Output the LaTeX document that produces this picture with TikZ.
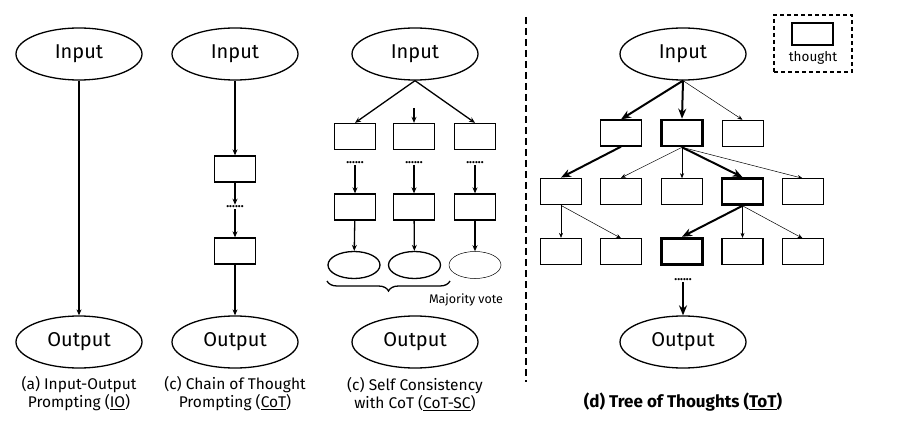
\documentclass[tikz,border=0pt]{standalone}
\usepackage{fontspec}
\setmainfont{Fira Sans}
\usetikzlibrary{shapes.geometric,arrows.meta,decorations.pathreplacing}
\begin{document}
\begin{tikzpicture}[x=1pt,y=-1pt,
  io/.style={ellipse,draw,line width=1.3pt,minimum width=126pt,minimum height=52pt,inner sep=0pt,font=\fontsize{20}{22}\selectfont},
  th/.style={rectangle,draw,line width=1.3pt,minimum width=41pt,minimum height=26pt,inner sep=0pt},
  thfaint/.style={th,line width=0.5pt},
  thmed/.style={th,line width=1.8pt},
  ththick/.style={th,line width=2.6pt},
  ththicker/.style={th,line width=3.4pt},
  ans/.style={ellipse,draw,line width=1.3pt,minimum width=52pt,minimum height=27pt,inner sep=0pt},
  ansfaint/.style={ans,line width=0.5pt},
  dotsnode/.style={inner sep=1pt,font=\bfseries\fontsize{12}{12}\selectfont},
  arr/.style={line width=1.3pt,-{Stealth[length=6pt,width=5pt]}},
  arrthin/.style={line width=0.5pt,-{Stealth[length=5pt,width=4pt]}},
  arrthick/.style={line width=2pt,-{Stealth[length=10pt,width=8pt]}},
  captext/.style={align=center,font=\fontsize{15.5}{18}\selectfont}
]
\useasboundingbox (0,0) rectangle (904,430);

% (a)
\node[io] (aIn) at (79,54) {Input};
\node[io] (aOut) at (79,342) {Output};
\draw[arr] (aIn) -- (aOut);
\node[captext] (capA) at (79,394) {(a) Input-Output\\Prompting (\underline{IO})};

% (b)
\node[io] (bIn) at (235,54) {Input};
\node[th] (b1) at (235,169) {};
\node[dotsnode] (bd) at (235,207) {......};
\node[th] (b2) at (235,251) {};
\node[io] (bOut) at (235,342) {Output};
\draw[arr] (bIn) -- (b1);
\draw[arr] (b1) -- (bd);
\draw[arr] (bd) -- (b2);
\draw[arr] (b2) -- (bOut);
\node[captext] (capB) at (235,394) {(c) Chain of Thought\\Prompting (\underline{CoT})};

% (c)
\node[io] (cIn) at (415,54) {Input};
\coordinate (cMid) at (414,108);
\node[th] (c11) at (355,136.5) {};
\node[th] (c12) at (414,136.5) {};
\node[th] (c13) at (475,136.5) {};
\node[dotsnode] (cd1) at (355,163) {......};
\node[dotsnode] (cd2) at (414,163) {......};
\node[dotsnode] (cd3) at (475,163) {......};
\node[th] (c21) at (355,207) {};
\node[th] (c22) at (414,207) {};
\node[th] (c23) at (475,207) {};
\node[ans] (ca1) at (354,265) {};
\node[ans] (ca2) at (414.5,265) {};
\node[ansfaint] (ca3) at (475,265) {};
\node[io] (cOut) at (415,342) {Output};
\draw[arr] (cIn.south) -- (c11.north);
\draw[arr] (cMid) -- (c12.north);
\draw[arr] (cIn.south) -- (c13.north);
\draw[arr] (cd1) -- (c21);
\draw[arr] (cd2) -- (c22);
\draw[arr] (cd3) -- (c23);
\draw[arr] (c21) -- (ca1);
\draw[arr] (c22) -- (ca2);
\draw[arr] (c23) -- (ca3);
\coordinate (brL) at (327,281);
\coordinate (brR) at (450,281);
\draw[line width=1.3pt,decorate,decoration={brace,mirror,amplitude=10pt}] (brL) -- (brR);
\node[font=\fontsize{12.5}{13}\selectfont] (mv) at (466,300) {Majority vote};
\node[captext] (capC) at (415,394) {(c) Self Consistency\\with CoT (\underline{CoT-SC})};

% divider
\coordinate (divT) at (526,17);
\coordinate (divB) at (526,382);
\draw[line width=2.5pt,dash pattern=on 7pt off 4pt] (divT) -- (divB);

% (d)
\node[io] (dIn) at (683,54) {Input};
\node[th] (r1a) at (621,133) {};
\node[ththick] (r1b) at (682,133) {};
\node[thfaint] (r1c) at (742.5,133) {};
\node[thmed] (r2a) at (561,191.5) {};
\node[th] (r2b) at (621,191.5) {};
\node[thfaint] (r2c) at (682,191.5) {};
\node[ththick] (r2d) at (742.5,191.5) {};
\node[thfaint] (r2e) at (802.5,191.5) {};
\node[th] (r3a) at (561,251.5) {};
\node[thfaint] (r3b) at (621,251.5) {};
\node[ththicker] (r3c) at (682,251.5) {};
\node[th] (r3d) at (742.5,251.5) {};
\node[thfaint] (r3e) at (802.5,251.5) {};
\node[dotsnode] (dd) at (683,280) {......};
\node[io] (dOut) at (683,342) {Output};

\draw[arrthick] (dIn.south) -- (r1a.north);
\draw[arrthick] (dIn.south) -- (r1b.north);
\draw[arrthin] (dIn.south) -- (r1c.north);
\draw[arrthick] (r1a.south) -- (r2a.north);
\draw[arrthin] (r1b.south) -- (r2b.north);
\draw[arrthin] (r1b.south) -- (r2c.north);
\draw[arrthick] (r1b.south) -- (r2d.north);
\draw[arrthin] (r1b.south) -- (r2e.north);
\draw[arrthin] (r2a.south) -- (r3a.north);
\draw[arrthin] (r2a.south) -- (r3b.north);
\draw[arrthick] (r2d.south) -- (r3c.north);
\draw[arrthin] (r2d.south) -- (r3d.north);
\draw[arrthin] (r2d.south) -- (r3e.north);
\draw[arrthick] (dd) -- (dOut);

\node[font=\bfseries\fontsize{17}{20}\selectfont] (capD) at (683,402) {(d) Tree of Thoughts (\underline{ToT})};

% legend
\node[draw,line width=1.3pt,dash pattern=on 4pt off 3pt,minimum width=78pt,minimum height=57pt,inner sep=0pt] (leg) at (813,43.5) {};
\node[th,minimum height=22pt] (legBox) at (812.5,34) {};
\node[font=\fontsize{13.5}{14}\selectfont] (legTxt) at (813,58) {thought};
\end{tikzpicture}
\end{document}
